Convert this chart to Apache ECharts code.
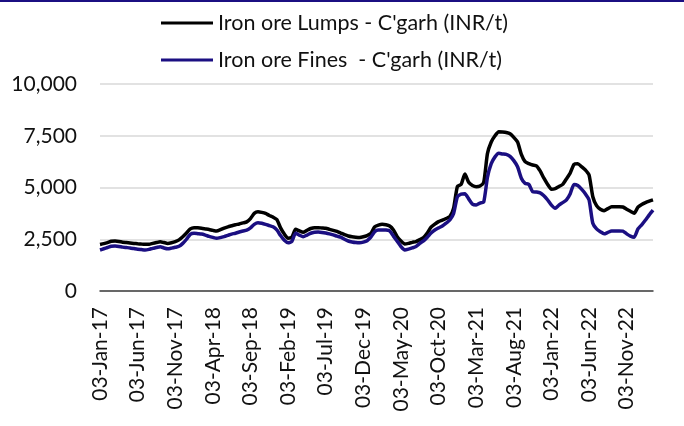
<!DOCTYPE html>
<html>
<head>
<meta charset="utf-8" />
<title>Iron ore prices C'garh</title>
<script src="https://cdn.jsdelivr.net/npm/echarts@6/dist/echarts.min.js"></script>
<style>
  html, body { margin: 0; padding: 0; background: #fff; }
  #main { width: 684px; height: 426px; }
</style>
</head>
<body>
<div id="main"></div>
<script type="text/javascript">
/* semi-monthly points, 03-Jan-17 .. 18-Feb-23 */
var monthNames = ['Jan','Feb','Mar','Apr','May','Jun','Jul','Aug','Sep','Oct','Nov','Dec'];
var firstYear = 17;
var pointCount = 148;

var lumps = [
  2250, 2290, 2340, 2400, 2410, 2390, 2360, 2340, 2320, 2300,
  2280, 2265, 2255, 2260, 2300, 2340, 2380, 2340, 2300, 2330,
  2380, 2470, 2620, 2800, 3000, 3060, 3050, 3030, 3000, 2970,
  2930, 2900, 2960, 3040, 3100, 3150, 3200, 3240, 3290, 3340,
  3500, 3750, 3830, 3800, 3750, 3650, 3570, 3450, 3050, 2750,
  2550, 2600, 2980, 2900, 2835, 2930, 3020, 3060, 3060, 3045,
  3030, 2980, 2930, 2880, 2800, 2720, 2655, 2620, 2600, 2590,
  2620, 2680, 2780, 3100, 3180, 3220, 3200, 3140, 2950, 2620,
  2420, 2270, 2300, 2350, 2390, 2480, 2580, 2800, 3080, 3230,
  3350, 3420, 3500, 3600, 4000, 5050, 5150, 5650, 5250, 5100,
  5040, 5070, 5250, 6650, 7200, 7500, 7690, 7680, 7660, 7600,
  7420, 7200, 6600, 6250, 6150, 6085, 6050, 5800, 5450, 5150,
  4920, 4950, 5050, 5150, 5420, 5700, 6120, 6150, 6010, 5850,
  5600, 4555, 4120, 3950, 3880, 3980, 4070, 4070, 4070, 4060,
  3950, 3850, 3760, 4050, 4180, 4270, 4340, 4400
];

var fines = [
  1980, 2040, 2100, 2160, 2170, 2150, 2120, 2100, 2080, 2050,
  2020, 2000, 1980, 2010, 2060, 2100, 2140, 2080, 2040, 2070,
  2110, 2160, 2300, 2500, 2740, 2790, 2770, 2750, 2700, 2640,
  2590, 2545, 2580, 2630, 2690, 2750, 2790, 2850, 2900, 2940,
  3050, 3220, 3300, 3270, 3220, 3160, 3100, 2950, 2680, 2450,
  2330, 2400, 2790, 2700, 2620, 2700, 2790, 2835, 2850, 2830,
  2800, 2760, 2710, 2650, 2600, 2500, 2415, 2370, 2340, 2330,
  2360, 2430, 2600, 2860, 2950, 2950, 2945, 2900, 2650, 2400,
  2150, 1980, 2020, 2080, 2150, 2300, 2420, 2600, 2800, 2950,
  3050, 3140, 3280, 3430, 3750, 4550, 4680, 4700, 4450, 4200,
  4160, 4250, 4300, 5500, 6150, 6480, 6650, 6620, 6600, 6500,
  6300, 6005, 5450, 5200, 5150, 4800, 4780, 4740, 4600, 4395,
  4150, 4000, 4150, 4270, 4400, 4700, 5150, 5100, 4920, 4700,
  4400, 3270, 3000, 2865, 2760, 2830, 2900, 2900, 2900, 2890,
  2760, 2650, 2600, 3000, 3200, 3430, 3680, 3910
];

var yTicks = { min: 0, max: 10000, step: 2500 };
var seriesNames = ["Iron ore Lumps - C'garh (INR/t)", "Iron ore Fines  - C'garh (INR/t)"];
var seriesColors = ['#000000', '#1b0f82'];

/* category labels: 03 and 18 of every month */
var dates = [];
for (var i = 0; i < pointCount; i++) {
    var m = Math.floor(i / 2);
    var day = (i % 2 === 0) ? '03' : '18';
    dates.push(day + '-' + monthNames[m % 12] + '-' + (firstYear + Math.floor(m / 12)));
}

var chart = echarts.init(document.getElementById('main'));
var font = 'Lato';

var option = {
    animation: false,
    backgroundColor: '#ffffff',
    graphic: [{
        type: 'rect',
        left: 0, top: 0,
        shape: { width: 684, height: 2 },
        style: { fill: '#1b0f82' }
    }],
    legend: {
        orient: 'vertical',
        left: 156,
        top: 6,
        itemWidth: 52,
        itemHeight: 3,
        itemGap: 13,
        icon: 'rect',
        textStyle: { fontFamily: font, fontSize: 21.5, color: '#111', lineHeight: 24 },
        data: seriesNames
    },
    grid: { left: 100, right: 31, top: 84, bottom: 135, containLabel: false },
    xAxis: {
        type: 'category',
        data: dates,
        boundaryGap: false,
        axisLine: { show: true, lineStyle: { color: '#404040', width: 1.5 } },
        axisTick: { show: false },
        axisLabel: {
            rotate: 90,
            margin: 16,
            interval: function (index) { return index % 10 === 0; },
            fontFamily: font, fontSize: 21, color: '#111'
        },
        splitLine: { show: false }
    },
    yAxis: {
        type: 'value',
        min: yTicks.min,
        max: yTicks.max,
        interval: yTicks.step,
        axisLine: { show: false },
        axisTick: { show: false },
        axisLabel: {
            margin: 23,
            fontFamily: font, fontSize: 21, color: '#111',
            formatter: function (v) { return v.toLocaleString('en-US'); }
        },
        splitLine: { lineStyle: { color: '#d9d9d9', width: 1.5 } }
    },
    series: [
        {
            name: seriesNames[0], type: 'line', data: lumps,
            symbol: 'none', smooth: 0.2,
            lineStyle: { color: seriesColors[0], width: 3.5 },
            itemStyle: { color: seriesColors[0] }
        },
        {
            name: seriesNames[1], type: 'line', data: fines,
            symbol: 'none', smooth: 0.2,
            lineStyle: { color: seriesColors[1], width: 3.5 },
            itemStyle: { color: seriesColors[1] }
        }
    ]
};
chart.setOption(option);
window.onresize = chart.resize;
</script>
</body>
</html>
